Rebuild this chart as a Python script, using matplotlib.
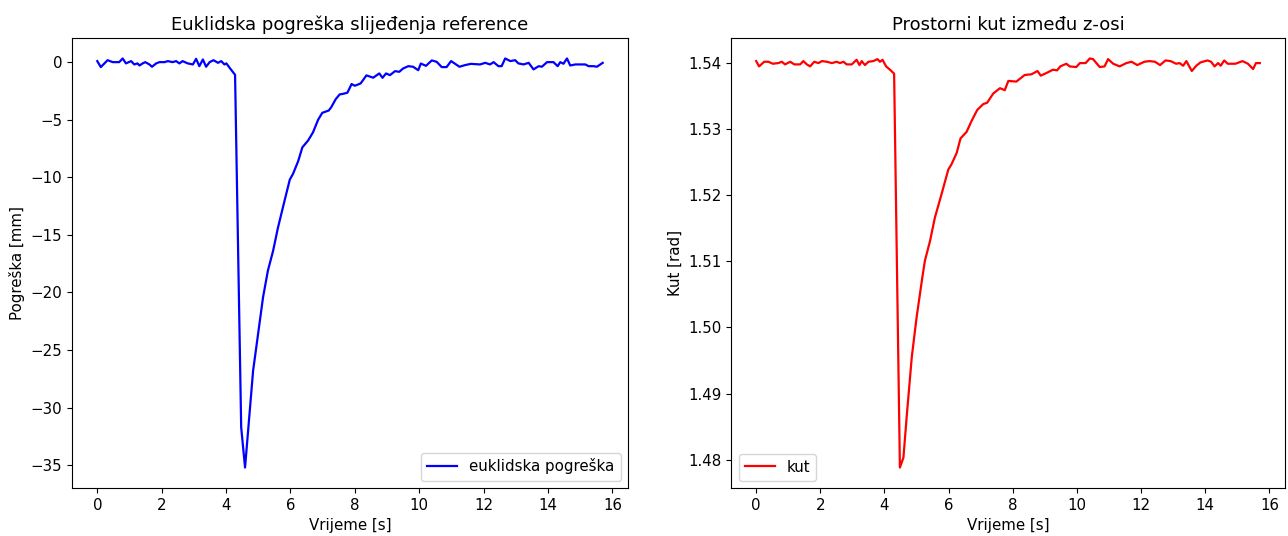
import matplotlib
matplotlib.use("Agg")
import matplotlib.pyplot as plt

# Left: Euclidean tracking error
t_err = [0.0, 0.11, 0.32, 0.48, 0.68, 0.79, 0.89, 1.05, 1.15, 1.25, 1.31, 1.41, 1.49, 1.62, 1.70,
         1.83, 1.93, 2.09, 2.19, 2.34, 2.45, 2.55, 2.65, 2.81, 2.97, 3.07, 3.17, 3.28, 3.38, 3.49,
         3.61, 3.75, 3.85, 3.95, 4.01, 4.11, 4.28, 4.47, 4.59, 4.84, 5.15, 5.30, 5.46, 5.61, 5.82,
         5.98, 6.08, 6.24, 6.37, 6.55, 6.70, 6.86, 6.99, 7.19, 7.27, 7.41, 7.53, 7.64, 7.77, 7.90,
         8.00, 8.18, 8.36, 8.57, 8.76, 8.86, 8.97, 9.09, 9.25, 9.38, 9.50, 9.66, 9.81, 9.97, 10.05,
         10.21, 10.39, 10.54, 10.70, 10.85, 10.99, 11.25, 11.42, 11.60, 11.89, 12.05, 12.20, 12.31,
         12.46, 12.56, 12.67, 12.83, 12.98, 13.08, 13.24, 13.40, 13.55, 13.71, 13.81, 13.97, 14.17,
         14.30, 14.38, 14.48, 14.59, 14.69, 14.85, 15.16, 15.26, 15.42, 15.52, 15.70]
err = [0.09, -0.43, 0.17, 0.0, 0.0, 0.32, -0.11, 0.09, -0.2, -0.11, -0.29, -0.11, 0.0, -0.2, -0.4,
       -0.11, 0.0, 0.0, 0.09, 0.0, 0.09, -0.11, 0.09, -0.11, -0.2, 0.29, -0.35, 0.23, -0.4, 0.0,
       0.17, -0.06, 0.09, -0.2, -0.11, -0.49, -1.1, -31.7, -35.2, -26.8, -20.4, -18.1, -16.4, -14.4, -12.0,
       -10.2, -9.7, -8.6, -7.4, -6.8, -6.1, -5.0, -4.4, -4.2, -3.9, -3.2, -2.8, -2.75, -2.65, -1.9,
       -2.05, -1.85, -1.15, -1.35, -0.98, -1.36, -0.98, -1.13, -0.78, -0.84, -0.55, -0.35, -0.4, -0.7, -0.12,
       -0.32, 0.15, 0.03, -0.43, -0.43, 0.09, -0.4, -0.26, -0.15, -0.2, -0.06, -0.2, 0.0,
       -0.35, -0.35, 0.32, 0.09, 0.17, -0.11, -0.2, -0.06, -0.63, -0.35, -0.4, 0.0, 0.0,
       -0.35, 0.0, -0.14, 0.32, -0.29, -0.2, -0.2, -0.35, -0.35, -0.4, -0.06]

# Right: spatial angle between z-axes
t_ang = [0.0, 0.09, 0.25, 0.38, 0.52, 0.69, 0.80, 0.90, 1.06, 1.19, 1.37, 1.47, 1.58, 1.68, 1.81,
         1.94, 2.05, 2.20, 2.36, 2.51, 2.61, 2.72, 2.82, 2.98, 3.13, 3.22, 3.29, 3.39, 3.50, 3.65,
         3.78, 3.86, 3.94, 4.05, 4.17, 4.30, 4.48, 4.59, 4.69, 4.85, 5.00, 5.18, 5.26, 5.42, 5.57,
         5.78, 5.99, 6.09, 6.25, 6.37, 6.56, 6.71, 6.89, 7.08, 7.20, 7.39, 7.60, 7.75, 7.86, 8.11,
         8.37, 8.58, 8.77, 8.87, 9.05, 9.25, 9.38, 9.48, 9.67, 9.77, 9.98, 10.09, 10.27, 10.40, 10.50,
         10.71, 10.86, 10.97, 11.13, 11.33, 11.54, 11.70, 11.88, 12.10, 12.26, 12.43, 12.59, 12.76,
         12.92, 13.09, 13.20, 13.31, 13.41, 13.58, 13.72, 13.85, 14.07, 14.18, 14.29, 14.40, 14.48,
         14.59, 14.70, 14.94, 15.16, 15.33, 15.49, 15.58, 15.70]
ang = [1.5403, 1.5395, 1.5402, 1.5402, 1.5399, 1.5400, 1.5402, 1.5398, 1.5402, 1.5398, 1.5398, 1.5403,
       1.5398, 1.5395, 1.5402, 1.5400, 1.5403, 1.5402, 1.5400, 1.5402, 1.5400, 1.5402, 1.5398, 1.5398,
       1.5405, 1.5397, 1.5403, 1.5397, 1.5402, 1.5403, 1.5406, 1.5402, 1.5405, 1.5395, 1.5390, 1.5384,
       1.4788, 1.4803, 1.4864, 1.4955, 1.5015, 1.5076, 1.5101, 1.5131, 1.5166,
       1.5202, 1.5239, 1.5247, 1.5264, 1.5286, 1.5296, 1.5312, 1.5329, 1.5338, 1.5340, 1.5354, 1.5362,
       1.5359, 1.5373, 1.5372, 1.5382, 1.5383, 1.5388, 1.5381, 1.5385, 1.5390, 1.5389, 1.5395, 1.5399,
       1.5395, 1.5394, 1.5400, 1.5400, 1.5407, 1.5406, 1.5394, 1.5395, 1.5406, 1.5399, 1.5395, 1.5400,
       1.5402, 1.5397, 1.5402, 1.5403, 1.5402, 1.5397, 1.5404, 1.5403, 1.5399, 1.5400, 1.5396, 1.5403,
       1.5388, 1.5396, 1.5401, 1.5404, 1.5402, 1.5395, 1.5400, 1.5396, 1.5404, 1.5399, 1.5399, 1.5403,
       1.5399, 1.5391, 1.5400, 1.5400]

plt.rcParams["font.size"] = 10.8
plt.rcParams["axes.titlesize"] = 13

fig = plt.figure(figsize=(12.88, 5.36), dpi=100)
ax1 = fig.add_axes([72 / 1288, 1 - 488 / 536, 556 / 1288, 450 / 536])
ax2 = fig.add_axes([731 / 1288, 1 - 488 / 536, 554 / 1288, 450 / 536])

ax1.plot(t_err, err, color="blue", linewidth=1.6, label="euklidska pogreška")
ax1.set_title("Euklidska pogreška slijeđenja reference")
ax1.set_xlabel("Vrijeme [s]")
ax1.set_ylabel("Pogreška [mm]")
ax1.legend(loc="lower right")

ax2.plot(t_ang, ang, color="red", linewidth=1.6, label="kut")
ax2.set_title("Prostorni kut između z-osi")
ax2.set_xlabel("Vrijeme [s]")
ax2.set_ylabel("Kut [rad]")
ax2.legend(loc="lower left")

fig.savefig("out.png", dpi=100)
